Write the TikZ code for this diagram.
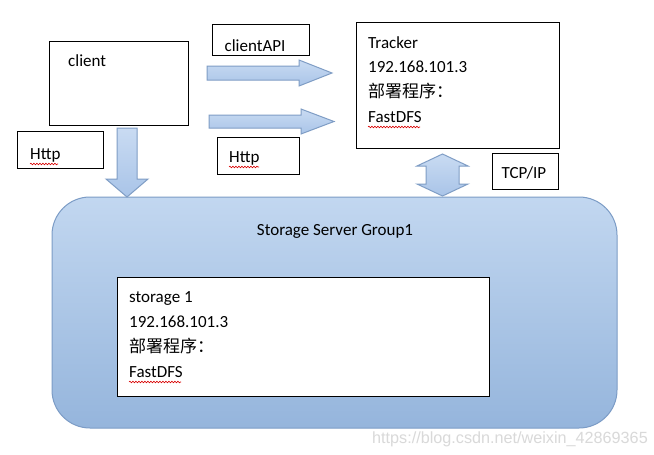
\documentclass[tikz,border=0pt]{standalone}
\usepackage{fontspec}
\setmainfont{Carlito}
\newfontfamily\cjk{Noto Sans CJK SC}
\newfontfamily\wmfont{Liberation Sans}
\usetikzlibrary{decorations.pathmorphing}
\definecolor{arrowtop}{HTML}{C9DBF2}
\definecolor{arrowbot}{HTML}{A9C4E8}
\definecolor{arrowborder}{HTML}{7F9DC5}
\definecolor{grouptop}{HTML}{C2D7F0}
\definecolor{groupbot}{HTML}{95B5DC}
\definecolor{groupborder}{HTML}{7C9CC6}
\begin{document}
\begin{tikzpicture}[x=1pt,y=-1pt,
  box/.style={draw=black,line width=0.8pt,fill=white,inner sep=0pt},
  txt/.style={anchor=base west,inner sep=0pt,font=\fontsize{17}{20}\selectfont},
  ctxt/.style={anchor=base,inner sep=0pt,font=\fontsize{17}{20}\selectfont},
  blockarrow/.style={draw=arrowborder,line width=1pt,top color=arrowtop,bottom color=arrowbot,line join=miter},
  squiggle/.style={draw=red!85!black,line width=0.6pt,decorate,decoration={snake,amplitude=0.8pt,segment length=3pt}}]
\useasboundingbox (0,0) rectangle (654,455);
\fill[white] (0,0) rectangle (654,455);

% storage server group
\node[draw=groupborder,line width=1pt,top color=grouptop,bottom color=groupbot,
      rounded corners=38pt,minimum width=565pt,minimum height=231pt,inner sep=0pt]
      (group) at (334.5,312.5) {};
\node[ctxt] (grouplabel) at (335,235) {Storage Server Group1};

% storage 1 box
\node[box,minimum width=372pt,minimum height=119pt] (storage) at (303,336.5) {};
\node[txt] (s1) at (129,302) {storage 1};
\node[txt] (s2) at (129,327) {192.168.101.3};
\node[txt] (s3) at (129,352) {\cjk 部署程序：};
\node[txt] (s4) at (129,377) {FastDFS};

% client box
\node[box,minimum width=139pt,minimum height=84pt] (client) at (118.5,83) {};
\node[txt] (clientlabel) at (68,66) {client};

% clientAPI box
\node[box,minimum width=97pt,minimum height=31pt] (api) at (261,39.5) {};
\node[ctxt] (apilabel) at (255,51) {clientAPI};

% Tracker box
\node[box,minimum width=203pt,minimum height=126pt] (tracker) at (457.5,85) {};
\node[txt] (t1) at (368,48) {Tracker};
\node[txt] (t2) at (368,72) {192.168.101.3};
\node[txt] (t3) at (368,97) {\cjk 部署程序：};
\node[txt] (t4) at (368,122) {FastDFS};

% Http boxes
\node[box,minimum width=86pt,minimum height=37pt] (httpL) at (60,149.5) {};
\node[txt] (httpLlabel) at (30,159) {Http};
\node[box,minimum width=82pt,minimum height=37pt] (httpR) at (258,155.5) {};
\node[txt] (httpRlabel) at (229,162) {Http};

% TCP/IP box
\node[box,minimum width=66pt,minimum height=36pt] (tcp) at (525,171) {};
\node[ctxt] (tcplabel) at (524,178) {TCP/IP};

% block arrows
\draw[blockarrow] (207,66) -- (299,66) -- (299,60) -- (332,73) -- (299,86) -- (299,80) -- (207,80) -- cycle;
\draw[blockarrow] (209,115) -- (301,115) -- (301,109) -- (334,121.5) -- (301,134) -- (301,128) -- (209,128) -- cycle;
\draw[blockarrow] (117,128) -- (137,128) -- (137,179) -- (148,179) -- (127,197) -- (106,179) -- (117,179) -- cycle;
\draw[blockarrow] (442.5,154) -- (468,166) -- (459,166) -- (459,184) -- (468,184) -- (442.5,196) -- (417,184) -- (426,184) -- (426,166) -- (417,166) -- cycle;

% spell-check squiggles
\draw[squiggle] (368,127) -- (420,127);
\draw[squiggle] (129,382) -- (181,382);
\draw[squiggle] (30,164) -- (58,164);
\draw[squiggle] (229,167) -- (259,167);

% watermark
\node[anchor=base west,inner sep=0pt,text=gray!30,font=\wmfont\fontsize{16.2}{19}\selectfont] (wm) at (372,443) {https://blog.csdn.net/weixin\_42869365};
\end{tikzpicture}
\end{document}
